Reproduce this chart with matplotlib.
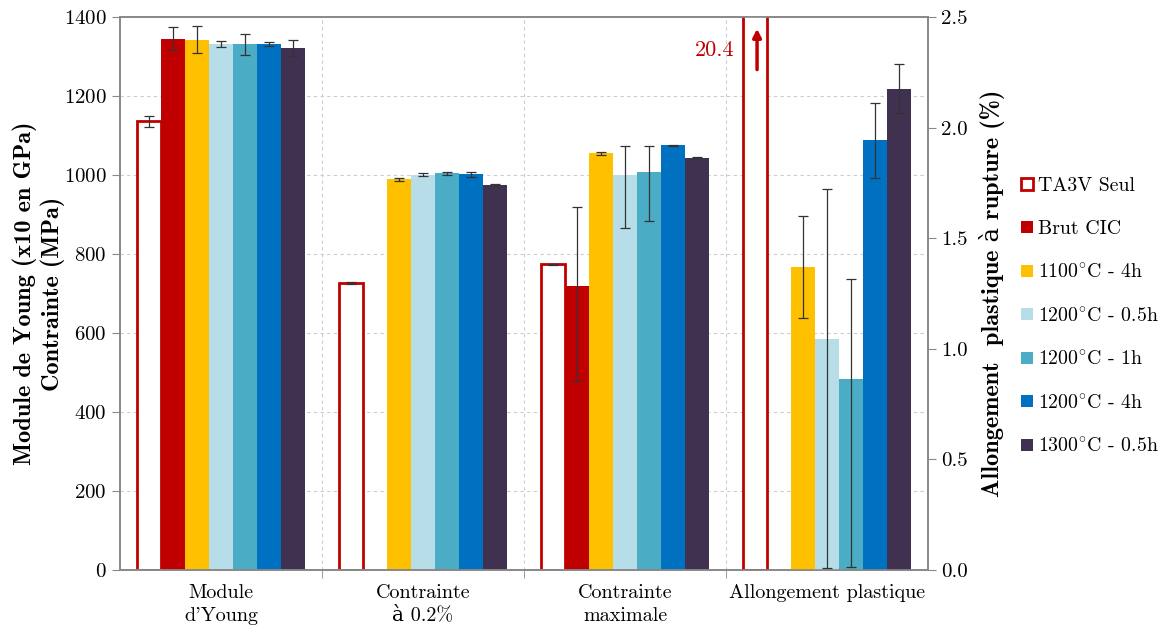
import numpy as np
import matplotlib
matplotlib.use("Agg")
import matplotlib.pyplot as plt
from matplotlib.lines import Line2D

plt.rcParams['font.family'] = ['cmr10', 'DejaVu Serif']
plt.rcParams['mathtext.fontset'] = 'cm'
plt.rcParams['axes.formatter.use_mathtext'] = True

groups = ["Module\nd'Young", "Contrainte\nà 0.2%", "Contrainte\nmaximale", "Allongement plastique"]
series = ["TA3V Seul", "Brut CIC", "1100$^{\\circ}$C - 4h", "1200$^{\\circ}$C - 0.5h",
          "1200$^{\\circ}$C - 1h", "1200$^{\\circ}$C - 4h", "1300$^{\\circ}$C - 0.5h"]
colors = ["#C00000", "#C00000", "#FFC000", "#B7DEE8", "#4BACC6", "#0070C0", "#403151"]

# values per series: [Young x10, Rp0.2, Rm, allongement (%)]
vals = [
    [1136, 727, 774, 20.4],          # TA3V Seul
    [1345, np.nan, 720, np.nan],     # Brut CIC
    [1343, 989, 1055, 1.37],         # 1100 - 4h
    [1332, 1001, 1000, 1.044],       # 1200 - 0.5h
    [1331, 1004, 1007, 0.866],       # 1200 - 1h
    [1331, 1002, 1075, 1.943],       # 1200 - 4h
    [1322, 975, 1044, 2.176],        # 1300 - 0.5h
]
err_low = [
    [14, 2, 2, 0],
    [29, 0, 242, 0],
    [35, 4, 3, 0.23],
    [8, 3, 135, 1.036],
    [26, 5, 123, 0.85],
    [5, 7, 2, 0.17],
    [21, 3, 2, 0.11],
]
err_high = [
    [14, 2, 2, 0],
    [29, 0, 200, 0],
    [35, 4, 3, 0.23],
    [8, 3, 74, 0.68],
    [26, 5, 66, 0.45],
    [5, 7, 2, 0.17],
    [21, 3, 2, 0.11],
]

fig = plt.figure(figsize=(11.68, 6.32), dpi=100)
ax = fig.add_axes([0.1027, 0.098, 0.692, 0.875])
ax2 = ax.twinx()

w = 0.119
x = np.arange(len(groups))
ekw = dict(ecolor="#333333", elinewidth=0.9, capsize=3.5, capthick=0.9)

for i, s in enumerate(series):
    v = np.array(vals[i], dtype=float)
    lo = np.array(err_low[i], dtype=float)
    hi = np.array(err_high[i], dtype=float)
    pos = x + (i - 3) * w
    if i == 0:
        style = dict(facecolor="white", edgecolor=colors[i], linewidth=2)
    else:
        style = dict(color=colors[i])
    show_err = ((lo + hi) > 0) & ~np.isnan(v)
    # first three groups on left axis
    ax.bar(pos[:3], v[:3], w, zorder=2, **style)
    m = show_err[:3]
    ax.errorbar(pos[:3][m], v[:3][m], yerr=[lo[:3][m], hi[:3][m]], fmt="none", zorder=3, **ekw)
    # elongation on right axis
    ax2.bar(pos[3:], v[3:], w, zorder=2, **style)
    if show_err[3]:
        ax2.errorbar(pos[3:], v[3:], yerr=[lo[3:], hi[3:]], fmt="none", zorder=3, **ekw)

# TA3V elongation off scale
xa = x[3] - 3 * w
ax2.annotate("", xy=(xa + 0.01, 2.46), xytext=(xa + 0.01, 2.25),
             arrowprops=dict(arrowstyle="-|>", color="#C00000", lw=2.5, mutation_scale=12))
ax2.text(xa - 0.1, 2.35, "20.4", color="#C00000", fontsize=16, ha="right", va="center")

ax.set_xlim(-0.5, 3.5)
ax.set_ylim(0, 1400)
ax2.set_ylim(0, 2.5)
ax.set_yticks(np.arange(0, 1401, 200))
ax2.set_yticks(np.arange(0, 2.51, 0.5))
ax2.yaxis.set_major_formatter(matplotlib.ticker.FormatStrFormatter("%.1f"))

ax.set_xticks(x)
ax.set_xticklabels(groups, fontsize=14.5, linespacing=1.35)
ax.set_xticks([0.5, 1.5, 2.5], minor=True)
ax.tick_params(axis="x", which="major", length=0, pad=10)
ax.tick_params(axis="x", which="minor", length=6, color="#888888", direction="out")
ax.tick_params(axis="y", labelsize=15, length=6, color="#888888", direction="out")
ax2.tick_params(axis="y", labelsize=15, length=6, color="#888888", direction="out")

ax.yaxis.grid(True, linestyle=(0, (3, 3)), color="#cccccc", linewidth=0.8, zorder=0)
ax.xaxis.grid(True, which="minor", linestyle=(0, (3, 3)), color="#cccccc", linewidth=0.8, zorder=0)
ax.set_axisbelow(True)

for a in (ax, ax2):
    for sp in a.spines.values():
        sp.set_color("#888888")
        sp.set_linewidth(1.2)

lab_font = ['cmb10', 'DejaVu Serif']
ax.set_ylabel("Module de Young (x10 en GPa)\nContrainte (MPa)", fontsize=17.5,
              family=lab_font, linespacing=1.2, labelpad=-1)
ax2.set_ylabel("Allongement  plastique à rupture (%)", fontsize=17.5,
               family=lab_font, labelpad=8)

handles = [Line2D([], [], marker="s", linestyle="none", markersize=9,
                  markerfacecolor="white" if i == 0 else colors[i],
                  markeredgecolor=colors[i], markeredgewidth=2 if i == 0 else 0)
           for i in range(len(series))]
fig.legend(handles, series, loc="center left", bbox_to_anchor=(0.872, 0.499),
           frameon=False, fontsize=14.3, labelspacing=1.25, handletextpad=0.1,
           handlelength=0.9, borderaxespad=0, borderpad=0)

fig.savefig("out.png", dpi=100)
